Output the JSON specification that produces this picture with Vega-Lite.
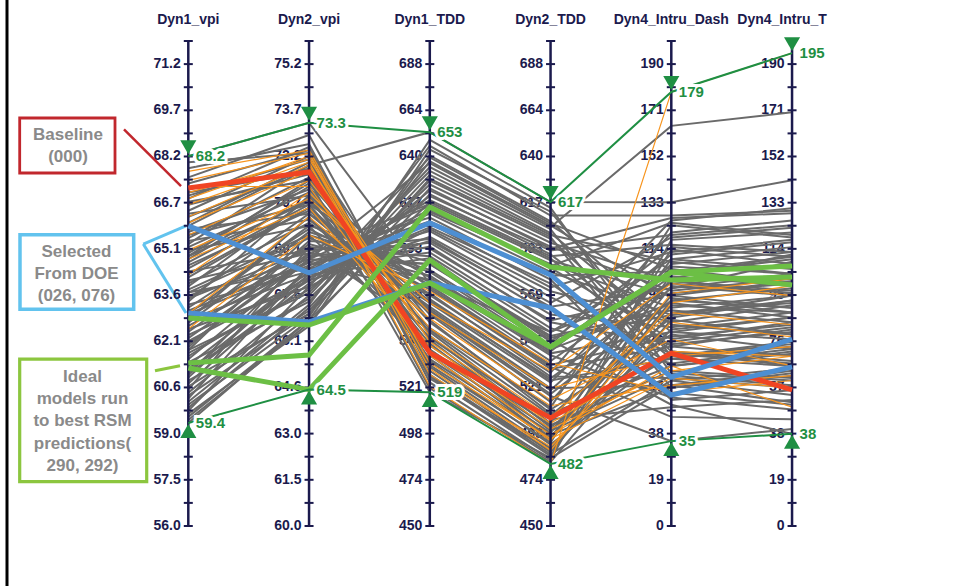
{
"$schema":"https://vega.github.io/schema/vega-lite/v6.json",
"width":954,"height":586,"padding":0,"autosize":{"type":"none"},"background":"white",
"config":{"view":{"stroke":null},"font":"Liberation Sans"},
"datasets":{
"axes":[
{"key":"vpi1","name":"Dyn1_vpi","idx":0,"lo":56,"hi":72},
{"key":"vpi2","name":"Dyn2_vpi","idx":1,"lo":60,"hi":76},
{"key":"tdd1","name":"Dyn1_TDD","idx":2,"lo":450,"hi":700},
{"key":"tdd2","name":"Dyn2_TDD","idx":3,"lo":450,"hi":700},
{"key":"dash","name":"Dyn4_Intru_Dash","idx":4,"lo":0,"hi":200},
{"key":"t","name":"Dyn4_Intru_T","idx":5,"lo":0,"hi":200}],
"ticks":[
{"major":1,"vpi1":56,"vpi2":60,"tdd1":450,"tdd2":450,"dash":0,"t":0},
{"major":1,"vpi1":57.524,"vpi2":61.524,"tdd1":473.81,"tdd2":473.81,"dash":19.048,"t":19.048},
{"major":1,"vpi1":59.048,"vpi2":63.048,"tdd1":497.62,"tdd2":497.62,"dash":38.095,"t":38.095},
{"major":1,"vpi1":60.571,"vpi2":64.571,"tdd1":521.43,"tdd2":521.43,"dash":57.143,"t":57.143},
{"major":1,"vpi1":62.095,"vpi2":66.095,"tdd1":545.24,"tdd2":545.24,"dash":76.19,"t":76.19},
{"major":1,"vpi1":63.619,"vpi2":67.619,"tdd1":569.05,"tdd2":569.05,"dash":95.238,"t":95.238},
{"major":1,"vpi1":65.143,"vpi2":69.143,"tdd1":592.86,"tdd2":592.86,"dash":114.29,"t":114.29},
{"major":1,"vpi1":66.667,"vpi2":70.667,"tdd1":616.67,"tdd2":616.67,"dash":133.33,"t":133.33},
{"major":1,"vpi1":68.19,"vpi2":72.19,"tdd1":640.48,"tdd2":640.48,"dash":152.38,"t":152.38},
{"major":1,"vpi1":69.714,"vpi2":73.714,"tdd1":664.29,"tdd2":664.29,"dash":171.43,"t":171.43},
{"major":1,"vpi1":71.238,"vpi2":75.238,"tdd1":688.1,"tdd2":688.1,"dash":190.48,"t":190.48},
{"major":0,"vpi1":56.762,"vpi2":60.762,"tdd1":461.9,"tdd2":461.9,"dash":9.524,"t":9.524},
{"major":0,"vpi1":58.286,"vpi2":62.286,"tdd1":485.71,"tdd2":485.71,"dash":28.571,"t":28.571},
{"major":0,"vpi1":59.81,"vpi2":63.81,"tdd1":509.52,"tdd2":509.52,"dash":47.619,"t":47.619},
{"major":0,"vpi1":61.333,"vpi2":65.333,"tdd1":533.33,"tdd2":533.33,"dash":66.667,"t":66.667},
{"major":0,"vpi1":62.857,"vpi2":66.857,"tdd1":557.14,"tdd2":557.14,"dash":85.714,"t":85.714},
{"major":0,"vpi1":64.381,"vpi2":68.381,"tdd1":580.95,"tdd2":580.95,"dash":104.76,"t":104.76},
{"major":0,"vpi1":65.905,"vpi2":69.905,"tdd1":604.76,"tdd2":604.76,"dash":123.81,"t":123.81},
{"major":0,"vpi1":67.429,"vpi2":71.429,"tdd1":628.57,"tdd2":628.57,"dash":142.86,"t":142.86},
{"major":0,"vpi1":68.952,"vpi2":72.952,"tdd1":652.38,"tdd2":652.38,"dash":161.9,"t":161.9},
{"major":0,"vpi1":70.476,"vpi2":74.476,"tdd1":676.19,"tdd2":676.19,"dash":180.95,"t":180.95},
{"major":0,"vpi1":72,"vpi2":76,"tdd1":700,"tdd2":700,"dash":200,"t":200}],
"lines":[
{"id":"A1","g":"gray","vpi1":67.8,"vpi2":72.6,"tdd1":530,"tdd2":488,"dash":88,"t":92},
{"id":"A2","g":"gray","vpi1":66.9,"vpi2":72.1,"tdd1":527,"tdd2":486,"dash":104,"t":110},
{"id":"A3","g":"gray","vpi1":66.2,"vpi2":71.8,"tdd1":535,"tdd2":492,"dash":72,"t":66},
{"id":"A4","g":"gray","vpi1":65.5,"vpi2":71.5,"tdd1":541,"tdd2":495,"dash":95,"t":101},
{"id":"A5","g":"gray","vpi1":67.3,"vpi2":72.4,"tdd1":524,"tdd2":484,"dash":118,"t":121},
{"id":"A6","g":"gray","vpi1":64.8,"vpi2":71.2,"tdd1":546,"tdd2":499,"dash":62,"t":58},
{"id":"A7","g":"gray","vpi1":66.0,"vpi2":72.0,"tdd1":532,"tdd2":490,"dash":81,"t":86},
{"id":"A8","g":"gray","vpi1":65.2,"vpi2":71.0,"tdd1":550,"tdd2":503,"dash":110,"t":115},
{"id":"A9","g":"gray","vpi1":63.9,"vpi2":70.8,"tdd1":544,"tdd2":497,"dash":57,"t":63},
{"id":"A10","g":"gray","vpi1":67.5,"vpi2":72.9,"tdd1":538,"tdd2":494,"dash":99,"t":95},
{"id":"A11","g":"gray","vpi1":66.6,"vpi2":71.6,"tdd1":556,"tdd2":508,"dash":66,"t":71},
{"id":"A12","g":"gray","vpi1":65.9,"vpi2":71.9,"tdd1":521,"tdd2":483,"dash":85,"t":79},
{"id":"A13","g":"gray","vpi1":64.2,"vpi2":70.5,"tdd1":552,"tdd2":511,"dash":124,"t":119},
{"id":"A14","g":"gray","vpi1":68.0,"vpi2":72.3,"tdd1":548,"tdd2":501,"dash":76,"t":82},
{"id":"A15","g":"gray","vpi1":63.4,"vpi2":70.9,"tdd1":536,"tdd2":496,"dash":91,"t":88},
{"id":"A16","g":"gray","vpi1":66.4,"vpi2":72.2,"tdd1":528,"tdd2":487,"dash":60,"t":54},
{"id":"A17","g":"gray","vpi1":65.0,"vpi2":71.3,"tdd1":559,"tdd2":514,"dash":107,"t":104},
{"id":"A18","g":"gray","vpi1":62.8,"vpi2":70.2,"tdd1":541,"tdd2":500,"dash":70,"t":76},
{"id":"A19","g":"gray","vpi1":67.0,"vpi2":71.7,"tdd1":533,"tdd2":493,"dash":114,"t":108},
{"id":"A20","g":"gray","vpi1":64.5,"vpi2":70.6,"tdd1":547,"tdd2":505,"dash":49,"t":52},
{"id":"A21","g":"gray","vpi1":66.8,"vpi2":72.5,"tdd1":526,"tdd2":489,"dash":93,"t":98},
{"id":"A22","g":"gray","vpi1":65.7,"vpi2":71.1,"tdd1":555,"tdd2":510,"dash":79,"t":73},
{"id":"A23","g":"gray","vpi1":63.0,"vpi2":69.9,"tdd1":539,"tdd2":498,"dash":102,"t":112},
{"id":"A24","g":"gray","vpi1":61.8,"vpi2":69.6,"tdd1":543,"tdd2":502,"dash":64,"t":61},
{"id":"A25","g":"gray","vpi1":60.5,"vpi2":69.2,"tdd1":551,"tdd2":507,"dash":86,"t":93},
{"id":"B1","g":"gray","vpi1":64.6,"vpi2":70.4,"tdd1":566,"tdd2":526,"dash":98,"t":104},
{"id":"B2","g":"gray","vpi1":63.2,"vpi2":69.8,"tdd1":572,"tdd2":531,"dash":74,"t":70},
{"id":"B3","g":"gray","vpi1":62.4,"vpi2":69.3,"tdd1":579,"tdd2":540,"dash":112,"t":117},
{"id":"B4","g":"gray","vpi1":65.4,"vpi2":70.1,"tdd1":563,"tdd2":521,"dash":58,"t":64},
{"id":"B5","g":"gray","vpi1":61.5,"vpi2":68.8,"tdd1":585,"tdd2":548,"dash":89,"t":84},
{"id":"B6","g":"gray","vpi1":66.3,"vpi2":70.9,"tdd1":569,"tdd2":529,"dash":121,"t":126},
{"id":"B7","g":"gray","vpi1":60.9,"vpi2":68.5,"tdd1":591,"tdd2":552,"dash":67,"t":73},
{"id":"B8","g":"gray","vpi1":63.7,"vpi2":69.5,"tdd1":576,"tdd2":535,"dash":103,"t":99},
{"id":"B9","g":"gray","vpi1":62.0,"vpi2":68.9,"tdd1":596,"tdd2":559,"dash":82,"t":88},
{"id":"B10","g":"gray","vpi1":64.9,"vpi2":70.7,"tdd1":561,"tdd2":518,"dash":93,"t":90},
{"id":"B11","g":"gray","vpi1":61.1,"vpi2":68.3,"tdd1":588,"tdd2":545,"dash":115,"t":111},
{"id":"B12","g":"gray","vpi1":63.5,"vpi2":69.1,"tdd1":598,"tdd2":562,"dash":55,"t":50},
{"id":"B13","g":"gray","vpi1":65.8,"vpi2":70.3,"tdd1":574,"tdd2":533,"dash":78,"t":83},
{"id":"B14","g":"gray","vpi1":62.7,"vpi2":69.7,"tdd1":582,"tdd2":543,"dash":126,"t":131},
{"id":"B15","g":"gray","vpi1":60.2,"vpi2":68.6,"tdd1":602,"tdd2":568,"dash":71,"t":67},
{"id":"B16","g":"gray","vpi1":64.0,"vpi2":70.0,"tdd1":565,"tdd2":524,"dash":108,"t":113},
{"id":"B17","g":"gray","vpi1":61.9,"vpi2":69.4,"tdd1":593,"tdd2":556,"dash":96,"t":100},
{"id":"B18","g":"gray","vpi1":63.1,"vpi2":68.7,"tdd1":570,"tdd2":527,"dash":61,"t":57},
{"id":"B19","g":"gray","vpi1":65.1,"vpi2":69.9,"tdd1":586,"tdd2":547,"dash":87,"t":95},
{"id":"B20","g":"gray","vpi1":60.7,"vpi2":68.2,"tdd1":599,"tdd2":565,"dash":119,"t":123},
{"id":"B21","g":"gray","vpi1":62.2,"vpi2":69.0,"tdd1":577,"tdd2":538,"dash":53,"t":48},
{"id":"B22","g":"gray","vpi1":64.3,"vpi2":70.5,"tdd1":562,"tdd2":520,"dash":101,"t":97},
{"id":"B23","g":"gray","vpi1":61.3,"vpi2":68.4,"tdd1":594,"tdd2":555,"dash":75,"t":80},
{"id":"B24","g":"gray","vpi1":63.8,"vpi2":69.6,"tdd1":581,"tdd2":541,"dash":92,"t":86},
{"id":"B25","g":"gray","vpi1":66.7,"vpi2":71.4,"tdd1":567,"tdd2":525,"dash":69,"t":74},
{"id":"B26","g":"gray","vpi1":59.8,"vpi2":67.9,"tdd1":603,"tdd2":571,"dash":84,"t":91},
{"id":"B27","g":"gray","vpi1":62.9,"vpi2":69.2,"tdd1":589,"tdd2":550,"dash":110,"t":106},
{"id":"B28","g":"gray","vpi1":64.7,"vpi2":70.8,"tdd1":573,"tdd2":532,"dash":45,"t":44},
{"id":"B29","g":"gray","vpi1":61.6,"vpi2":68.1,"tdd1":597,"tdd2":563,"dash":98,"t":109},
{"id":"B30","g":"gray","vpi1":65.6,"vpi2":70.6,"tdd1":578,"tdd2":539,"dash":80,"t":77},
{"id":"C1","g":"gray","vpi1":61.0,"vpi2":68.0,"tdd1":612,"tdd2":585,"dash":90,"t":95},
{"id":"C2","g":"gray","vpi1":59.9,"vpi2":67.2,"tdd1":628,"tdd2":598,"dash":72,"t":68},
{"id":"C3","g":"gray","vpi1":62.6,"vpi2":68.7,"tdd1":607,"tdd2":579,"dash":105,"t":111},
{"id":"C4","g":"gray","vpi1":60.4,"vpi2":67.6,"tdd1":635,"tdd2":603,"dash":60,"t":65},
{"id":"C5","g":"gray","vpi1":63.3,"vpi2":68.4,"tdd1":618,"tdd2":589,"dash":116,"t":113},
{"id":"C6","g":"gray","vpi1":59.6,"vpi2":66.8,"tdd1":641,"tdd2":607,"dash":83,"t":79},
{"id":"C7","g":"gray","vpi1":61.7,"vpi2":67.8,"tdd1":623,"tdd2":594,"dash":97,"t":102},
{"id":"C8","g":"gray","vpi1":62.1,"vpi2":68.2,"tdd1":604,"tdd2":575,"dash":66,"t":72},
{"id":"C9","g":"gray","vpi1":60.1,"vpi2":67.3,"tdd1":646,"tdd2":610,"dash":128,"t":130},
{"id":"C10","g":"gray","vpi1":63.6,"vpi2":68.8,"tdd1":615,"tdd2":583,"dash":77,"t":84},
{"id":"C11","g":"gray","vpi1":61.4,"vpi2":67.4,"tdd1":631,"tdd2":600,"dash":109,"t":104},
{"id":"C12","g":"gray","vpi1":64.1,"vpi2":69.0,"tdd1":609,"tdd2":577,"dash":52,"t":56},
{"id":"C13","g":"gray","vpi1":60.8,"vpi2":67.0,"tdd1":638,"tdd2":605,"dash":94,"t":88},
{"id":"C14","g":"gray","vpi1":62.3,"vpi2":68.1,"tdd1":620,"tdd2":592,"dash":120,"t":124},
{"id":"C15","g":"gray","vpi1":59.7,"vpi2":66.6,"tdd1":644,"tdd2":612,"dash":70,"t":75},
{"id":"C16","g":"gray","vpi1":63.0,"vpi2":68.6,"tdd1":611,"tdd2":581,"dash":87,"t":93},
{"id":"C17","g":"gray","vpi1":61.2,"vpi2":67.5,"tdd1":626,"tdd2":596,"dash":101,"t":96},
{"id":"C18","g":"gray","vpi1":60.0,"vpi2":66.9,"tdd1":649,"tdd2":614,"dash":63,"t":60},
{"id":"C19","g":"gray","vpi1":62.8,"vpi2":68.3,"tdd1":606,"tdd2":573,"dash":113,"t":118},
{"id":"C20","g":"gray","vpi1":61.8,"vpi2":67.7,"tdd1":633,"tdd2":601,"dash":80,"t":86},
{"id":"C21","g":"gray","vpi1":64.4,"vpi2":69.1,"tdd1":616,"tdd2":587,"dash":95,"t":90},
{"id":"C22","g":"gray","vpi1":60.6,"vpi2":67.1,"tdd1":629,"tdd2":599,"dash":57,"t":62},
{"id":"C23","g":"gray","vpi1":62.5,"vpi2":67.9,"tdd1":640,"tdd2":606,"dash":106,"t":100},
{"id":"C24","g":"gray","vpi1":59.5,"vpi2":66.7,"tdd1":621,"tdd2":590,"dash":74,"t":81},
{"id":"C25","g":"gray","vpi1":63.7,"vpi2":68.5,"tdd1":613,"tdd2":584,"dash":125,"t":120},
{"id":"S1","g":"gray","vpi1":68.2,"vpi2":73.3,"tdd1":575,"tdd2":550,"dash":100,"t":96},
{"id":"S2","g":"gray","vpi1":65.3,"vpi2":71.9,"tdd1":653,"tdd2":617,"dash":133.5,"t":142.6},
{"id":"S3","g":"gray","vpi1":62.0,"vpi2":68.8,"tdd1":637,"tdd2":604,"dash":165,"t":170.6},
{"id":"S4","g":"gray","vpi1":60.3,"vpi2":67.0,"tdd1":624,"tdd2":593,"dash":127,"t":129},
{"id":"S5","g":"gray","vpi1":59.4,"vpi2":66.8,"tdd1":617,"tdd2":588,"dash":69,"t":66},
{"id":"S6","g":"gray","vpi1":63.5,"vpi2":70.3,"tdd1":560,"tdd2":517,"dash":35,"t":40},
{"id":"S7","g":"gray","vpi1":61.0,"vpi2":69.0,"tdd1":585,"tdd2":546,"dash":50,"t":38},
{"id":"S8","g":"gray","vpi1":64.9,"vpi2":71.4,"tdd1":519,"tdd2":485,"dash":58,"t":51},
{"id":"O1","g":"orange","vpi1":66.6,"vpi2":72.0,"tdd1":522,"tdd2":482,"dash":179,"t":195},
{"id":"O2","g":"orange","vpi1":67.4,"vpi2":72.3,"tdd1":531,"tdd2":489,"dash":92,"t":99},
{"id":"O3","g":"orange","vpi1":66.2,"vpi2":71.9,"tdd1":540,"tdd2":497,"dash":66,"t":49},
{"id":"O4","g":"orange","vpi1":67.0,"vpi2":72.1,"tdd1":545,"tdd2":503,"dash":72,"t":70},
{"id":"O5","g":"orange","vpi1":65.6,"vpi2":71.4,"tdd1":552,"tdd2":512,"dash":58,"t":62},
{"id":"O6","g":"orange","vpi1":66.8,"vpi2":72.2,"tdd1":528,"tdd2":491,"dash":84,"t":78},
{"id":"O7","g":"orange","vpi1":64.3,"vpi2":71.0,"tdd1":560,"tdd2":521,"dash":70,"t":74},
{"id":"O8","g":"orange","vpi1":67.7,"vpi2":72.4,"tdd1":534,"tdd2":495,"dash":61,"t":57},
{"id":"O9","g":"orange","vpi1":65.1,"vpi2":70.8,"tdd1":565,"tdd2":530,"dash":100,"t":95},
{"id":"O10","g":"orange","vpi1":63.0,"vpi2":70.2,"tdd1":557,"tdd2":515,"dash":77,"t":66},
{"id":"O11","g":"orange","vpi1":66.0,"vpi2":71.7,"tdd1":548,"tdd2":506,"dash":88,"t":83},
{"id":"O12","g":"orange","vpi1":62.5,"vpi2":69.6,"tdd1":571,"tdd2":534,"dash":55,"t":60},
{"id":"O13","g":"orange","vpi1":67.2,"vpi2":71.2,"tdd1":538,"tdd2":494,"dash":96,"t":102},
{"id":"O14","g":"orange","vpi1":64.8,"vpi2":70.5,"tdd1":543,"tdd2":500,"dash":64,"t":70},
{"id":"Baseline 000","g":"red","vpi1":67.15,"vpi2":71.68,"tdd1":539.2,"tdd2":505.7,"dash":71.3,"t":56.1},
{"id":"DOE 026","g":"blue","vpi1":65.9,"vpi2":68.35,"tdd1":606.2,"tdd2":579.4,"dash":61.4,"t":77.1},
{"id":"DOE 076","g":"blue","vpi1":63.03,"vpi2":66.73,"tdd1":575.3,"tdd2":562.4,"dash":54.0,"t":65.6},
{"id":"Ideal A","g":"green","vpi1":62.86,"vpi2":66.63,"tdd1":575.3,"tdd2":542.3,"dash":104.7,"t":107.2},
{"id":"Ideal 290","g":"green","vpi1":61.38,"vpi2":65.64,"tdd1":614.4,"tdd2":583.5,"dash":101.4,"t":102.7},
{"id":"Ideal 292","g":"green","vpi1":61.21,"vpi2":64.5,"tdd1":587.1,"tdd2":542.3,"dash":104.7,"t":99.4},
{"id":"max","g":"max","vpi1":68.2,"vpi2":73.3,"tdd1":653,"tdd2":617,"dash":179,"t":195},
{"id":"min","g":"min","vpi1":59.4,"vpi2":64.5,"tdd1":519,"tdd2":482,"dash":35,"t":38}]
},
"layer":[
{"data":{"values":[{}]},"mark":{"type":"rule","color":"#000000","strokeWidth":3},
 "encoding":{"x":{"datum":-1.5014,"type":"quantitative","scale":{"domain":[-1.5594,6.3412],"nice":false,"zero":false},"axis":null},
 "y":{"datum":-0.12371,"type":"quantitative","scale":{"domain":[-0.12371,1.08454],"nice":false,"zero":false},"axis":null},"y2":{"datum":1.08454}}},
{"data":{"values":[{}]},"mark":{"type":"rect","filled":false,"stroke":"#c1272d","strokeWidth":2.8},
 "encoding":{"x":{"datum":-1.3963,"type":"quantitative","scale":{"domain":[-1.5594,6.3412],"nice":false,"zero":false},"axis":null},"x2":{"datum":-0.607},
 "y":{"datum":0.8412,"type":"quantitative","scale":{"domain":[-0.12371,1.08454],"nice":false,"zero":false},"axis":null},"y2":{"datum":0.7278}}},
{"data":{"values":[{}]},"mark":{"type":"rect","filled":false,"stroke":"#62c3ee","strokeWidth":3.5},
 "encoding":{"x":{"datum":-1.3938,"type":"quantitative","scale":{"domain":[-1.5594,6.3412],"nice":false,"zero":false},"axis":null},"x2":{"datum":-0.4522},
 "y":{"datum":0.6006,"type":"quantitative","scale":{"domain":[-0.12371,1.08454],"nice":false,"zero":false},"axis":null},"y2":{"datum":0.4468}}},
{"data":{"values":[{}]},"mark":{"type":"rect","filled":false,"stroke":"#8cc63f","strokeWidth":3.2},
 "encoding":{"x":{"datum":-1.3963,"type":"quantitative","scale":{"domain":[-1.5594,6.3412],"nice":false,"zero":false},"axis":null},"x2":{"datum":-0.3445},
 "y":{"datum":0.3439,"type":"quantitative","scale":{"domain":[-0.12371,1.08454],"nice":false,"zero":false},"axis":null},"y2":{"datum":0.0913}}},
{"data":{"values":[{}]},"mark":{"type":"rule","color":"#c1272d","strokeWidth":2.5},
 "encoding":{"x":{"datum":-0.5325,"type":"quantitative","scale":{"domain":[-1.5594,6.3412],"nice":false,"zero":false},"axis":null},"x2":{"datum":-0.0604},
 "y":{"datum":0.8179,"type":"quantitative","scale":{"domain":[-0.12371,1.08454],"nice":false,"zero":false},"axis":null},"y2":{"datum":0.701}}},
{"data":{"values":[{}]},"mark":{"type":"rule","color":"#62c3ee","strokeWidth":3},
 "encoding":{"x":{"datum":-0.3727,"type":"quantitative","scale":{"domain":[-1.5594,6.3412],"nice":false,"zero":false},"axis":null},"x2":{"datum":-0.019},
 "y":{"datum":0.5814,"type":"quantitative","scale":{"domain":[-0.12371,1.08454],"nice":false,"zero":false},"axis":null},"y2":{"datum":0.6186}}},
{"data":{"values":[{}]},"mark":{"type":"rule","color":"#62c3ee","strokeWidth":3},
 "encoding":{"x":{"datum":-0.3727,"type":"quantitative","scale":{"domain":[-1.5594,6.3412],"nice":false,"zero":false},"axis":null},"x2":{"datum":-0.019},
 "y":{"datum":0.5814,"type":"quantitative","scale":{"domain":[-0.12371,1.08454],"nice":false,"zero":false},"axis":null},"y2":{"datum":0.4392}}},
{"data":{"values":[{}]},"mark":{"type":"rule","color":"#8cc63f","strokeWidth":3},
 "encoding":{"x":{"datum":-0.2758,"type":"quantitative","scale":{"domain":[-1.5594,6.3412],"nice":false,"zero":false},"axis":null},"x2":{"datum":-0.0687},
 "y":{"datum":0.3202,"type":"quantitative","scale":{"domain":[-0.12371,1.08454],"nice":false,"zero":false},"axis":null},"y2":{"datum":0.3305}}},
{"data":{"values":[{}]},"mark":{"type":"text","text":["Baseline","(000)"],"lineHeight":22.5,"fontSize":17,"fontWeight":"bold","color":"#8a8a8a","align":"center","baseline":"middle"},
 "encoding":{"x":{"datum":-0.9963,"type":"quantitative","scale":{"domain":[-1.5594,6.3412],"nice":false,"zero":false},"axis":null},
 "y":{"datum":0.8062,"type":"quantitative","scale":{"domain":[-0.12371,1.08454],"nice":false,"zero":false},"axis":null}}},
{"data":{"values":[{}]},"mark":{"type":"text","text":["Selected","From DOE","(026, 076)"],"lineHeight":22.3,"fontSize":17,"fontWeight":"bold","color":"#8a8a8a","align":"center","baseline":"middle"},
 "encoding":{"x":{"datum":-0.9259,"type":"quantitative","scale":{"domain":[-1.5594,6.3412],"nice":false,"zero":false},"axis":null},
 "y":{"datum":0.5656,"type":"quantitative","scale":{"domain":[-0.12371,1.08454],"nice":false,"zero":false},"axis":null}}},
{"data":{"values":[{}]},"mark":{"type":"text","text":["Ideal","models run","to best RSM","predictions(","290, 292)"],"lineHeight":22.3,"fontSize":17,"fontWeight":"bold","color":"#8a8a8a","align":"center","baseline":"middle"},
 "encoding":{"x":{"datum":-0.8762,"type":"quantitative","scale":{"domain":[-1.5594,6.3412],"nice":false,"zero":false},"axis":null},
 "y":{"datum":0.3078,"type":"quantitative","scale":{"domain":[-0.12371,1.08454],"nice":false,"zero":false},"axis":null}}},
{"data":{"name":"axes"},
 "transform":[{"filter":"datum.key !== 't'"}],
 "mark":{"type":"text","fontSize":14,"fontWeight":"bold","color":"#1b1a4d","align":"center","baseline":"alphabetic"},
 "encoding":{"x":{"field":"idx","type":"quantitative","scale":{"domain":[-1.5594,6.3412],"nice":false,"zero":false},"axis":null},
 "y":{"datum":1.0351,"type":"quantitative","scale":{"domain":[-0.12371,1.08454],"nice":false,"zero":false},"axis":null},
 "text":{"field":"name","type":"nominal"}}},
{"data":{"name":"axes"},
 "transform":[{"filter":"datum.key === 't'"}],
 "mark":{"type":"text","fontSize":14,"fontWeight":"bold","color":"#1b1a4d","align":"center","baseline":"alphabetic","dx":-10},
 "encoding":{"x":{"field":"idx","type":"quantitative","scale":{"domain":[-1.5594,6.3412],"nice":false,"zero":false},"axis":null},
 "y":{"datum":1.0351,"type":"quantitative","scale":{"domain":[-0.12371,1.08454],"nice":false,"zero":false},"axis":null},
 "text":{"field":"name","type":"nominal"}}},
{"data":{"name":"ticks"},
 "transform":[
  {"fold":["vpi1","vpi2","tdd1","tdd2","dash","t"],"as":["key","value"]},
  {"lookup":"key","from":{"data":{"name":"axes"},"key":"key","fields":["idx","lo","hi"]}},
  {"calculate":"(datum.value - datum.lo) / (datum.hi - datum.lo)","as":"n"},
  {"filter":"datum.major === 1"}],
 "encoding":{"x":{"field":"idx","type":"quantitative","scale":{"domain":[-1.5594,6.3412],"nice":false,"zero":false},"axis":null},
  "y":{"field":"n","type":"quantitative","scale":{"domain":[-0.12371,1.08454],"nice":false,"zero":false},"axis":null}},
 "layer":[
  {"transform":[{"filter":"datum.key === 'vpi1' || datum.key === 'vpi2'"}],
   "mark":{"type":"text","fontSize":14,"fontWeight":"bold","color":"#1b1a4d","align":"right","baseline":"middle","dx":-7.5},
   "encoding":{"text":{"field":"value","type":"quantitative","format":".1f"}}},
  {"transform":[{"filter":"datum.key !== 'vpi1' && datum.key !== 'vpi2'"}],
   "mark":{"type":"text","fontSize":14,"fontWeight":"bold","color":"#1b1a4d","align":"right","baseline":"middle","dx":-7.5},
   "encoding":{"text":{"field":"value","type":"quantitative","format":".0f"}}}
 ]},
{"data":{"name":"lines"},
 "transform":[
  {"fold":["vpi1","vpi2","tdd1","tdd2","dash","t"],"as":["key","value"]},
  {"lookup":"key","from":{"data":{"name":"axes"},"key":"key","fields":["idx","lo","hi"]}},
  {"calculate":"(datum.value - datum.lo) / (datum.hi - datum.lo)","as":"n"}],
 "encoding":{"x":{"field":"idx","type":"quantitative","scale":{"domain":[-1.5594,6.3412],"nice":false,"zero":false},"axis":null},
  "y":{"field":"n","type":"quantitative","scale":{"domain":[-0.12371,1.08454],"nice":false,"zero":false},"axis":null},
  "detail":{"field":"id","type":"nominal"}},
 "layer":[
  {"transform":[{"filter":"datum.g === 'gray'"}],"mark":{"type":"line","color":"#6a6a6a","strokeWidth":2}},
  {"transform":[{"filter":"datum.g === 'orange'"}],"mark":{"type":"line","color":"#f7941d","strokeWidth":1.2}}
 ]},
{"data":{"name":"axes"},
 "mark":{"type":"rule","color":"#1b1a4d","strokeWidth":2.5},
 "encoding":{"x":{"field":"idx","type":"quantitative","scale":{"domain":[-1.5594,6.3412],"nice":false,"zero":false},"axis":null},
  "y":{"datum":0,"type":"quantitative","scale":{"domain":[-0.12371,1.08454],"nice":false,"zero":false},"axis":null},"y2":{"datum":1}}},
{"data":{"name":"ticks"},
 "transform":[
  {"fold":["vpi1","vpi2","tdd1","tdd2","dash","t"],"as":["key","value"]},
  {"lookup":"key","from":{"data":{"name":"axes"},"key":"key","fields":["idx","lo","hi"]}},
  {"calculate":"(datum.value - datum.lo) / (datum.hi - datum.lo)","as":"n"}],
 "mark":{"type":"tick","orient":"horizontal","size":9,"thickness":2,"color":"#1b1a4d","opacity":1},
 "encoding":{"x":{"field":"idx","type":"quantitative","scale":{"domain":[-1.5594,6.3412],"nice":false,"zero":false},"axis":null},
  "y":{"field":"n","type":"quantitative","scale":{"domain":[-0.12371,1.08454],"nice":false,"zero":false},"axis":null}}},
{"data":{"name":"lines"},
 "transform":[
  {"fold":["vpi1","vpi2","tdd1","tdd2","dash","t"],"as":["key","value"]},
  {"lookup":"key","from":{"data":{"name":"axes"},"key":"key","fields":["idx","lo","hi"]}},
  {"calculate":"(datum.value - datum.lo) / (datum.hi - datum.lo)","as":"n"}],
 "encoding":{"x":{"field":"idx","type":"quantitative","scale":{"domain":[-1.5594,6.3412],"nice":false,"zero":false},"axis":null},
  "y":{"field":"n","type":"quantitative","scale":{"domain":[-0.12371,1.08454],"nice":false,"zero":false},"axis":null},
  "detail":{"field":"id","type":"nominal"}},
 "layer":[
  {"transform":[{"filter":"datum.g === 'red'"}],"mark":{"type":"line","color":"#f04423","strokeWidth":5}},
  {"transform":[{"filter":"datum.g === 'blue'"}],"mark":{"type":"line","color":"#4d8fd3","strokeWidth":5}},
  {"transform":[{"filter":"datum.g === 'green'"}],"mark":{"type":"line","color":"#6cbf45","strokeWidth":5}},
  {"transform":[{"filter":"datum.g === 'max' || datum.g === 'min'"}],"mark":{"type":"line","color":"#1f8f43","strokeWidth":2}},
  {"transform":[{"filter":"datum.g === 'max' || datum.g === 'min'"}],"mark":{"type":"text","align":"left","baseline":"middle","dx":7.5,"fontSize":15,"fontWeight":"bold","color":"white","stroke":"white","strokeWidth":6},
   "encoding":{"text":{"field":"value","type":"nominal"}}},
  {"transform":[{"filter":"datum.g === 'max' || datum.g === 'min'"}],"mark":{"type":"text","align":"left","baseline":"middle","dx":7.5,"fontSize":15,"fontWeight":"bold","color":"#1f8f43"},
   "encoding":{"text":{"field":"value","type":"nominal"}}},
  {"transform":[{"filter":"datum.g === 'max'"}],"mark":{"type":"point","shape":"triangle-down","filled":true,"size":260,"yOffset":-9,"color":"#1f8f43","opacity":1}},
  {"transform":[{"filter":"datum.g === 'min'"}],"mark":{"type":"point","shape":"triangle-up","filled":true,"size":260,"yOffset":8,"color":"#1f8f43","opacity":1}}
 ]}
]
}
